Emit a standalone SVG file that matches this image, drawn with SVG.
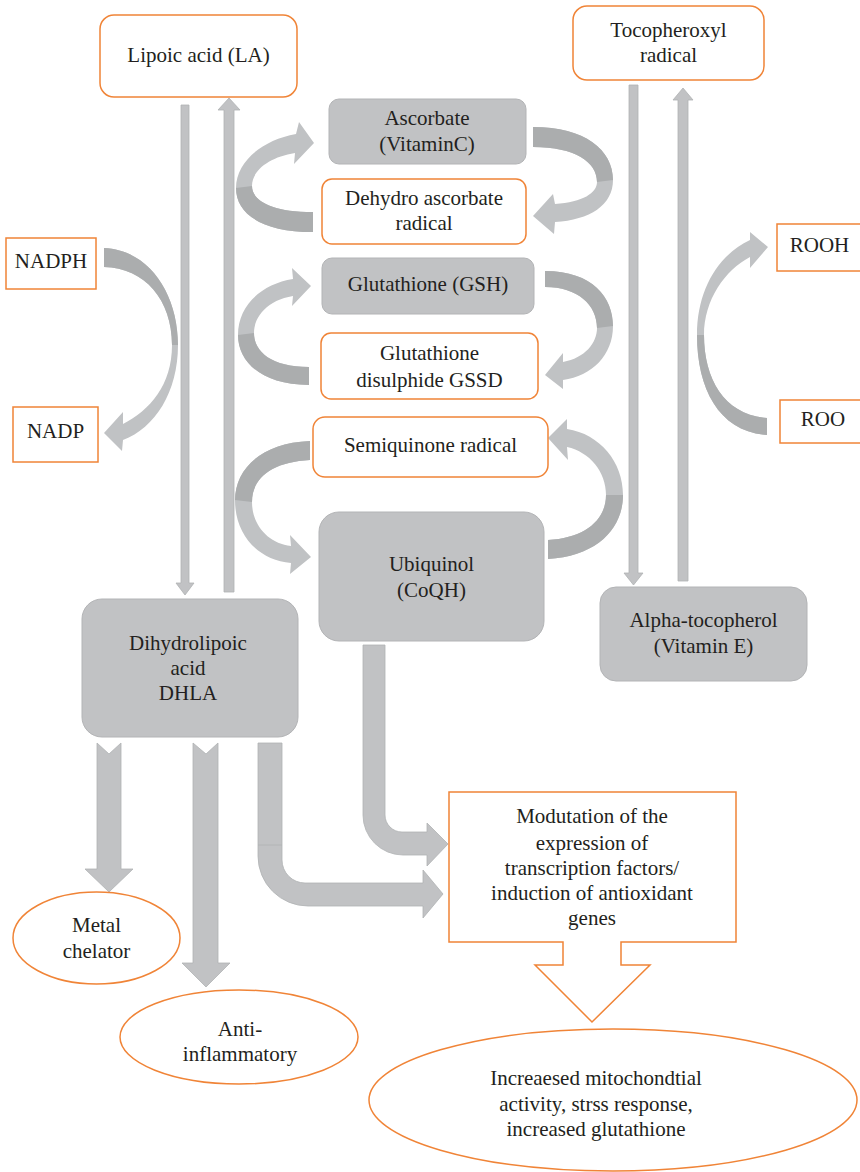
<svg xmlns="http://www.w3.org/2000/svg" width="860" height="1172" viewBox="0 0 860 1172">
<style>
text{font-family:"Liberation Serif","DejaVu Serif",serif;font-size:21px;fill:#231f20;text-anchor:middle}
.ob{fill:#fff;stroke:#f08437;stroke-width:1.5}
.gb{fill:#c1c2c4;stroke:#b3b4b6;stroke-width:1}
.ar{fill:#c1c2c4;stroke:#b0b2b4;stroke-width:0.8}
.cl{fill:#c0c2c4}
.cd{fill:#abadae}
</style>
<rect width="860" height="1172" fill="#fff"/>
<g id="connectors">
  <path class="ar" d="M181,105 H189 V583 H194 L185,595 L176,583 H181 Z"/>
  <path class="ar" d="M224,592 V110 H218 L229,98 L240,110 H234 V592 Z"/>
  <path class="ar" d="M629,85 H638 V573 H643 L633.5,585 L624,573 H629 Z"/>
  <path class="ar" d="M678,581 V100 H673 L683,88 L693,100 H688 V581 Z"/>
  <g id="loop-ascorbate-left">
    <path class="cl" d="M313,232 C262,232 236,214 236,188 C236,162 262,140 296,134 L299,122 L314,143 L294,164 L295,153 C270,157 252,170 252,186 C252,200 270,212 313,212 Z"/>
    <path class="cd" d="M313,232 C262,232 236,214 236,188 L252,186 C252,200 270,212 313,212 Z"/>
  </g>
  <g id="loop-ascorbate-right">
    <path class="cl" d="M533,127 C585,127 613,150 613,180 C613,205 590,220 555,222 L554,234 L533,216 L553,194 L555,204 C583,202 597,193 597,182 C597,162 575,147 533,147 Z"/>
    <path class="cd" d="M533,127 C585,127 613,150 613,180 L597,182 C597,162 575,147 533,147 Z"/>
  </g>
  <g id="loop-gsh-left">
    <path class="cl" d="M309,385 C262,385 238,362 238,335 C238,305 262,284 293,279 L292,268 L311,286 L292,306 L293,296 C268,300 254,316 254,333 C254,352 272,367 309,367 Z"/>
    <path class="cd" d="M309,385 C262,385 238,362 238,335 L254,333 C254,352 272,367 309,367 Z"/>
  </g>
  <g id="loop-gsh-right">
    <path class="cl" d="M545,271 C593,271 613,298 613,326 C613,355 592,376 563,380 L563,389 L545,375 L563,353 L563,362 C585,358 597,343 597,328 C597,305 578,287 545,287 Z"/>
    <path class="cd" d="M545,271 C593,271 613,298 613,326 L597,328 C597,305 578,287 545,287 Z"/>
  </g>
  <g id="loop-semi-left">
    <path class="cl" d="M310,441 C260,443 235,470 235,500 C235,535 258,560 291,563 L290,574 L311,557 L290,535 L291,546 C268,543 252,525 252,502 C252,478 272,462 310,460 Z"/>
    <path class="cd" d="M310,441 C260,443 235,470 235,500 L252,502 C252,478 272,462 310,460 Z"/>
  </g>
  <g id="loop-ubi-right">
    <path class="cl" d="M548,559 C598,556 623,528 623,495 C623,462 600,434 567,429 L567,419 L548,438 L568,460 L567,447 C590,452 606,472 606,495 C606,520 585,538 548,540 Z"/>
    <path class="cd" d="M548,559 C598,556 623,528 623,495 L606,495 C606,520 585,538 548,540 Z"/>
  </g>
  <g id="arc-nadph">
    <path class="cl" d="M104,248 C150,250 178,295 178,345 C178,392 155,428 123,440 L122,451 L104,433 L123,412 L123,424 C150,410 172,385 172,345 C172,300 145,268 104,267 Z"/>
    <path class="cd" d="M104,248 C150,250 178,295 178,345 L172,345 C172,300 145,268 104,267 Z"/>
  </g>
  <g id="arc-roo">
    <path class="cl" d="M767,435 C720,432 697,390 697,335 C697,290 718,255 750,240 L750,232 L768,247 L750,268 L750,257 C725,270 704,300 704,335 C704,380 725,415 767,418 Z"/>
    <path class="cd" d="M767,435 C720,432 697,390 697,335 L704,335 C704,380 725,415 767,418 Z"/>
  </g>
  <path class="ar" d="M97,743 L109,754 L121,743 V869 H133 L109,892 L85,869 H97 Z"/>
  <path class="ar" d="M193,743 L206,754 L218,743 V963 H230 L206,987 L182,963 H193 Z"/>
  <path class="ar" d="M258,743 H282 V860 A23,23 0 0 0 305,883 H423 V870 L443,894 L423,918 V906 H308 A50,50 0 0 1 258,856 Z"/>
  <line x1="258" y1="845" x2="282" y2="845" stroke="#b0b2b4" stroke-width="0.8"/>
  <path class="ar" d="M363,645 H385 V815 A17,17 0 0 0 402,832 H427 V823 L448,844 L427,866 V855 H403 A40,40 0 0 1 363,815 Z"/>
</g>
<g id="lipoic"><rect class="ob" x="100" y="15" width="197" height="82" rx="14"/><text x="198.5" y="62">Lipoic acid (LA)</text></g>
<g id="tocopheroxyl"><rect class="ob" x="573" y="6" width="191" height="74" rx="14"/><text x="668.5" y="37">Tocopheroxyl</text><text x="668.5" y="62">radical</text></g>
<g id="ascorbate"><rect class="gb" x="329" y="99" width="197" height="65" rx="10"/><text x="427" y="125">Ascorbate</text><text x="427" y="151">(VitaminC)</text></g>
<g id="dehydro"><rect class="ob" x="322" y="179" width="204" height="65" rx="10"/><text x="424" y="205">Dehydro ascorbate</text><text x="424" y="230">radical</text></g>
<g id="gsh"><rect class="gb" x="322" y="258" width="212" height="56" rx="10"/><text x="428" y="291">Glutathione (GSH)</text></g>
<g id="gssd"><rect class="ob" x="321" y="333" width="217" height="66" rx="10"/><text x="429.5" y="360">Glutathione</text><text x="429.5" y="387">disulphide GSSD</text></g>
<g id="semiquinone"><rect class="ob" x="313" y="417" width="235" height="60" rx="12"/><text x="430.5" y="452">Semiquinone radical</text></g>
<g id="ubiquinol"><rect class="gb" x="319" y="512" width="225" height="129" rx="20"/><text x="431.5" y="571">Ubiquinol</text><text x="431.5" y="597">(CoQH)</text></g>
<g id="dhla"><rect class="gb" x="82" y="599" width="216" height="138" rx="20"/><text x="188" y="650">Dihydrolipoic</text><text x="188" y="675">acid</text><text x="188" y="700">DHLA</text></g>
<g id="alpha"><rect class="gb" x="600" y="587" width="207" height="94" rx="16"/><text x="703.5" y="627">Alpha-tocopherol</text><text x="703.5" y="653">(Vitamin E)</text></g>
<g id="nadph"><rect class="ob" x="6" y="238" width="90" height="51"/><text x="51" y="268">NADPH</text></g>
<g id="nadp"><rect class="ob" x="13" y="407" width="85" height="55"/><text x="55.5" y="438">NADP</text></g>
<g id="rooh"><rect class="ob" x="777" y="224" width="90" height="47"/><text x="819.5" y="252">ROOH</text></g>
<g id="roo"><rect class="ob" x="780" y="400" width="90" height="43"/><text x="823" y="426">ROO</text></g>
<g id="modulation"><path class="ob" d="M449,792 H736 V942 H621 V965 H650 L592,1022 L535,965 H563 V942 H449 Z"/><text x="592" y="823">Modutation of the</text><text x="592" y="850">expression of</text><text x="592" y="875">transcription factors/</text><text x="592" y="900">induction of antioxidant</text><text x="592" y="925">genes</text></g>
<g id="metal"><ellipse class="ob" cx="96.5" cy="938" rx="83.5" ry="46"/><text x="96.5" y="932">Metal</text><text x="96.5" y="958">chelator</text></g>
<g id="antiinflam"><ellipse class="ob" cx="239" cy="1037" rx="119" ry="47"/><text x="240" y="1036">Anti-</text><text x="240" y="1061">inflammatory</text></g>
<g id="increased"><ellipse class="ob" cx="613" cy="1100" rx="244" ry="71"/><text x="596" y="1085">Increaesed mitochondtial</text><text x="596" y="1111">activity, strss response,</text><text x="596" y="1136">increased glutathione</text></g>
</svg>
